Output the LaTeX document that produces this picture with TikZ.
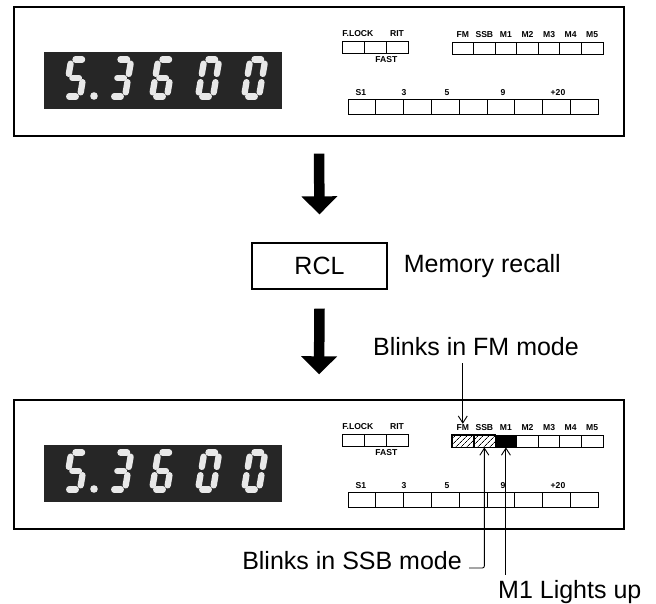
\documentclass[tikz,border=0pt]{standalone}
\usepackage{fontspec}
\setmainfont{Liberation Sans}
\usepackage{tikz}
\usetikzlibrary{arrows.meta,positioning,patterns.meta}

\definecolor{lcdglow}{RGB}{232,232,232}
\definecolor{lcdback}{RGB}{38,38,38}

% one slanted seven-segment digit, origin at its lower left corner
\newcommand{\segdigit}[3]{%
  \begin{scope}[shift={(#1,#2)}, xslant=0.17]
    \coordinate (tl) at (0,-37); \coordinate (tr) at (15,-37);
    \coordinate (ml) at (0,-18.5); \coordinate (mr) at (15,-18.5);
    \coordinate (bl) at (0,0);   \coordinate (br) at (15,0);
    \foreach \u/\v in {#3} \draw[segment] (\u) -- (\v);
  \end{scope}}

\begin{document}
\begin{tikzpicture}[x=1pt, y=-1pt,
  panel/.style={draw, line width=1.4pt, minimum width=610pt, minimum height=129pt, inner sep=0pt},
  ledbox/.style={draw, line width=0.8pt, inner sep=0pt, minimum height=12pt},
  tinylabel/.style={font=\bfseries\fontsize{8.6}{9}\selectfont, inner sep=0.5pt},
  biglabel/.style={font=\fontsize{25}{28}\selectfont, inner sep=0pt},
  keybox/.style={draw, line width=1.3pt, minimum width=135pt, minimum height=46pt, font=\fontsize{25}{28}\selectfont},
  segment/.style={lcdglow, line width=6.3pt, line cap=round, shorten <=4.2pt, shorten >=4.2pt},
  bigarrow/.style={line width=10.5pt, -{Triangle[width=35pt,length=18pt]}},
  notearrow/.style={line width=0.9pt, -{Straight Barb[length=7pt,width=9pt]}}]

\useasboundingbox (0,0) rectangle (656,603);

% Front panel, before and after the recall
\foreach \p/\dy in {top/0, bot/393} {
  \node[panel] (\p) at (319,71.5+\dy) {};
  % frequency readout
  \fill[lcdback] (44,52+\dy) rectangle (282,109+\dy);
  \segdigit{65}{96.5+\dy}{tl/tr, tl/ml, ml/mr, mr/br, bl/br}
  \fill[lcdglow] (94,96+\dy) circle (3.8pt);
  \segdigit{110}{96.5+\dy}{tl/tr, tr/mr, ml/mr, mr/br, bl/br}
  \segdigit{152}{96.5+\dy}{tl/tr, tl/ml, ml/mr, ml/bl, mr/br, bl/br}
  \segdigit{198}{96.5+\dy}{tl/tr, tr/mr, mr/br, bl/br, ml/bl, tl/ml}
  \segdigit{244}{96.5+\dy}{tl/tr, tr/mr, mr/br, bl/br, ml/bl, tl/ml}

  % F.LOCK / FAST / RIT lamps
  \foreach \i in {1,2,3}
    \node[ledbox, minimum width=22pt] (\p-k\i) at (331+22*\i,47+\dy) {};
  \node[tinylabel, above=3.5pt of \p-k1.north west, anchor=south west] (\p-lock) {F.LOCK};
  \node[tinylabel, above=3.5pt of \p-k3] (\p-rit) {RIT};
  \node[tinylabel, below=2.5pt of \p-k2.south east] (\p-fast) {FAST};

  % mode and memory lamps
  \foreach \m [count=\i] in {FM,SSB,M1,M2,M3,M4,M5} {
    \node[ledbox, minimum width=21.57pt] (\p-\m) at ({452+21.57*(\i-0.5)},48+\dy) {};
    \node[tinylabel, above=3.5pt of \p-\m] (\p-l\m) {\m};
  }

  % S-meter lamps
  \foreach \i in {1,...,9}
    \node[ledbox, minimum width=27.78pt, minimum height=15pt] (\p-s\i) at ({348+27.78*(\i-0.5)},107+\dy) {};
  \foreach \t/\x [count=\j] in {S1/361, 3/404, 5/447, 9/503, +20/558}
    \node[tinylabel, anchor=base] (\p-t\j) at (\x,95+\dy) {\t};
}

% lamps after recall: FM and SSB blink, M1 lit
\foreach \m in {FM,SSB}
  \draw[line width=0.8pt, pattern={Lines[angle=45,distance=4pt,line width=0.7pt]}]
    (bot-\m.south west) rectangle (bot-\m.north east);
\fill (bot-M1.south west) rectangle (bot-M1.north east);

% RCL key
\node[keybox] (rcl) at (319.5,266) {RCL};
\node[biglabel, right=16pt of rcl] (memo) {Memory recall};

\draw[bigarrow] ([yshift=-17pt]top.south) -- ([yshift=28pt]rcl.north);
\draw[bigarrow] ([yshift=-19pt]rcl.south) -- ([yshift=25pt]bot.north);

% notes
\node[biglabel, anchor=base west] (fmnote) at (373,355) {Blinks in FM mode};
\node[biglabel, anchor=base east] (ssbnote) at (462,569) {Blinks in SSB mode};
\node[biglabel, anchor=base west] (m1note) at (498,598) {M1 Lights up};

\coordinate (fmfoot) at ([yshift=-8pt]fmnote.south);
\coordinate (ssbfoot) at ([xshift=7pt,yshift=1pt]ssbnote.base east);
\coordinate (m1foot) at ([yshift=5pt]m1note.north);

\draw[notearrow] (fmfoot -| bot-FM) -- (bot-lFM.north);
\draw[notearrow, rounded corners=2pt] (ssbfoot) -| (bot-SSB.south);
\draw[notearrow] (m1foot -| bot-M1) -- (bot-M1.south);
\end{tikzpicture}
\end{document}
